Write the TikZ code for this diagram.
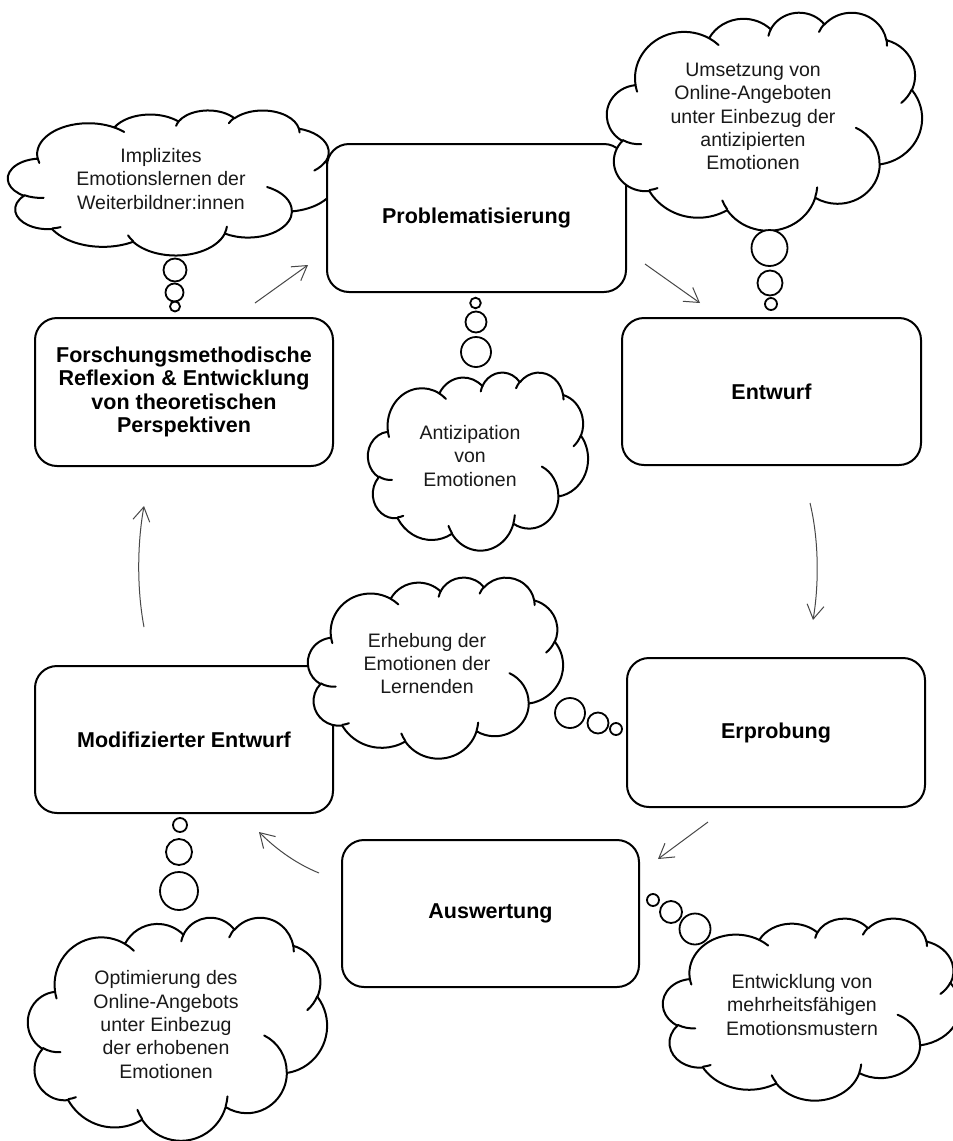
\documentclass[tikz,border=0pt]{standalone}
\usepackage{fontspec}
\setmainfont{Liberation Sans}
\usetikzlibrary{arrows.meta}

\newcommand\cldprep[5]{%
  \pgfmathsetmacro\cldtmpa{atan2((#2)*sin(#4),(#3)*cos(#4))}%
  \pgfmathsetmacro\cldtmpb{atan2((#2)*sin((#4)+(#5)),(#3)*cos((#4)+(#5)))}%
  \pgfmathsetmacro\cldtmpc{\cldtmpb-\cldtmpa}%
  \pgfmathsetmacro\cldtmpc{\cldtmpc<0 ? \cldtmpc+360 : \cldtmpc}%
  \expandafter\xdef\csname cloud#1s\endcsname{\cldtmpa}%
  \expandafter\xdef\csname cloud#1d\endcsname{\cldtmpc}%
}

\newcommand\drawcloud[4]{%
  \begin{scope}[shift={(#1,#2)}, xscale=#3/432, yscale=#4/432]
    \filldraw[cloudline] (39.00,143.70)
      arc[start angle=\cloudAs, delta angle=\cloudAd, x radius=67.53, y radius=91.90]
      arc[start angle=\cloudBs, delta angle=\cloudBd, x radius=53.33, y radius=72.67]
      arc[start angle=\cloudCs, delta angle=\cloudCd, x radius=43.65, y radius=59.45]
      arc[start angle=\cloudDs, delta angle=\cloudDd, x radius=48.57, y radius=65.95]
      arc[start angle=\cloudEs, delta angle=\cloudEd, x radius=53.33, y radius=72.73]
      arc[start angle=\cloudFs, delta angle=\cloudFd, x radius=67.75, y radius=92.20]
      arc[start angle=\cloudGs, delta angle=\cloudGd, x radius=57.85, y radius=78.67]
      arc[start angle=\cloudHs, delta angle=\cloudHd, x radius=67.52, y radius=92.15]
      arc[start angle=\cloudIs, delta angle=\cloudId, x radius=77.20, y radius=105.43]
      arc[start angle=\cloudJs, delta angle=\cloudJd, x radius=43.60, y radius=59.18]
      arc[start angle=\cloudKs, delta angle=\cloudKd, x radius=43.45, y radius=59.45]
      -- cycle;
    \draw[cloudinner]
      (46.93,261.77) arc[start angle=\cloudas, delta angle=\cloudad, x radius=43.45, y radius=59.45]
      (69.28,348.99) arc[start angle=\cloudbs, delta angle=\cloudbd, x radius=43.60, y radius=59.18]
      (164.78,390.90) arc[start angle=\cloudcs, delta angle=\cloudcd, x radius=67.52, y radius=92.15]
      (288.27,347.51) arc[start angle=\cloudds, delta angle=\clouddd, x radius=67.52, y radius=92.15]
      (341.29,229.54) arc[start angle=\cloudes, delta angle=\clouded, x radius=57.85, y radius=78.67]
      (417.98,153.54) arc[start angle=\cloudfs, delta angle=\cloudfd, x radius=53.33, y radius=72.73]
      (383.24,54.26) arc[start angle=\cloudgs, delta angle=\cloudgd, x radius=48.57, y radius=65.95]
      (290.78,39.52) arc[start angle=\cloudhs, delta angle=\cloudhd, x radius=48.57, y radius=65.95]
      (221.41,47.20) arc[start angle=\cloudis, delta angle=\cloudid, x radius=43.65, y radius=59.45]
      (140.00,51.92) arc[start angle=\cloudjs, delta angle=\cloudjd, x radius=67.53, y radius=91.90]
      (41.27,157.89) arc[start angle=\cloudks, delta angle=\cloudkd, x radius=67.53, y radius=91.90];
  \end{scope}}

\tikzset{
  cloudline/.style={draw=black, line width=2pt, fill=white, line join=round},
  cloudinner/.style={draw=black, line width=2pt, line cap=round},
  stepbox/.style={draw=black, line width=2pt, rounded corners=22pt, fill=white,
    align=center, inner sep=2pt, text=black,
    font=\fontsize{21.5}{23.3}\selectfont\bfseries},
  cloudtext/.style={align=center, inner sep=0pt, text=black!90,
    font=\fontsize{19.5}{23.3}\selectfont},
  bubble/.style={draw=black, line width=1.8pt, fill=white},
  flow/.style={draw=black!72, line width=1pt,
    -{Straight Barb[length=14pt,width=17pt,line width=1pt]}}
}

\begin{document}
\begin{tikzpicture}[x=1pt,y=-1pt]
\cldprep{A}{67.53}{91.90}{-190.48748}{123.78053}
\cldprep{B}{53.33}{72.67}{-144.10238}{89.94523}
\cldprep{C}{43.65}{59.45}{-145.80792}{99.72302}
\cldprep{D}{48.57}{65.95}{-130.98607}{117.24173}
\cldprep{E}{53.33}{72.73}{-78.70888}{109.02692}
\cldprep{F}{67.75}{92.20}{-46.26725}{130.269}
\cldprep{G}{57.85}{78.67}{0.62502}{114.03333}
\cldprep{H}{67.52}{92.15}{22.4516}{115.17255}
\cldprep{I}{77.20}{105.43}{66.24263}{75.71102}
\cldprep{J}{43.60}{59.18}{-274.94208}{146.73557}
\cldprep{K}{43.45}{59.45}{-246.8285}{152.51885}
\cldprep{a}{43.45}{59.45}{86.742}{26.4295}
\cldprep{b}{43.60}{59.18}{73.61047}{11.44747}
\cldprep{c}{67.52}{92.15}{137.62415}{14.0811}
\cldprep{d}{67.52}{92.15}{6.45327}{15.99835}
\cldprep{e}{57.85}{78.67}{-70.29235}{70.91737}
\cldprep{f}{53.33}{72.73}{30.31803}{27.7515}
\cldprep{g}{48.57}{65.95}{-13.74433}{14.8589}
\cldprep{h}{48.57}{65.95}{-149.18145}{18.19537}
\cldprep{i}{43.65}{59.45}{-163.49427}{17.68635}
\cldprep{j}{67.53}{91.90}{-66.70695}{12.31935}
\cldprep{k}{67.53}{91.90}{157.65435}{11.85817}

\path[use as bounding box, fill=white] (0,0) rectangle (953,1141);

% cloud behind the boxes
\drawcloud{8}{110}{328}{145}

% process boxes
\node[stepbox, minimum width=299pt, minimum height=148pt] (prob) at (476.5,218) {Problematisierung};
\node[stepbox, minimum width=299pt, minimum height=147pt] (entw) at (771.5,391.5) {Entwurf};
\node[stepbox, minimum width=298pt, minimum height=148pt] (forsch) at (184,392)
  {Forschungsmethodische\\Reflexion \& Entwicklung\\von theoretischen\\Perspektiven};
\node[stepbox, minimum width=298pt, minimum height=149pt] (erpr) at (776,732.5) {Erprobung};
\node[stepbox, minimum width=298pt, minimum height=147pt] (modi) at (184,739.5) {Modifizierter Entwurf};
\node[stepbox, minimum width=297pt, minimum height=147pt] (ausw) at (490.5,913.5) {Auswertung};

% clouds in front
\drawcloud{607}{12}{315}{218}
\drawcloud{368}{372}{220}{178}
\drawcloud{308}{577}{255}{181}
\drawcloud{28}{917}{299}{223}
\drawcloud{663}{918}{297}{182}

% thought bubbles
\draw[bubble] (175,270) circle[radius=11.5];
\draw[bubble] (174.5,292.5) circle[radius=9];
\draw[bubble] (175,306.5) circle[radius=5];

\draw[bubble] (769.5,248) circle[radius=18];
\draw[bubble] (770,283) circle[radius=12.5];
\draw[bubble] (771,304) circle[radius=6];

\draw[bubble] (475.5,303) circle[radius=5.3];
\draw[bubble] (476,322) circle[radius=10.5];
\draw[bubble] (476,352) circle[radius=15];

\draw[bubble] (570,713) circle[radius=15];
\draw[bubble] (598,723) circle[radius=10.5];
\draw[bubble] (616,729) circle[radius=6];

\draw[bubble] (180,825) circle[radius=7];
\draw[bubble] (179,852) circle[radius=13];
\draw[bubble] (179,891) circle[radius=19];

\draw[bubble] (653,900) circle[radius=6];
\draw[bubble] (671,912) circle[radius=11];
\draw[bubble] (695,929) circle[radius=15.5];

% cloud texts
\node[cloudtext] (timpl) at (161,179) {Implizites\\Emotionslernen der\\Weiterbildner:innen};
\node[cloudtext] (tums) at (753,116.5) {Umsetzung von\\Online-Angeboten\\unter Einbezug der\\antizipierten\\Emotionen};
\node[cloudtext] (tanti) at (470,456) {Antizipation\\von\\Emotionen};
\node[cloudtext] (terh) at (427,663.5) {Erhebung der\\Emotionen der\\Lernenden};
\node[cloudtext] (topt) at (166,1024.5) {Optimierung des\\Online-Angebots\\unter Einbezug\\der erhobenen\\Emotionen};
\node[cloudtext] (tentw) at (802,1005) {Entwicklung von\\mehrheitsf\"ahigen\\Emotionsmustern};

% cycle arrows
\coordinate (a1s) at (255,303); \coordinate (a1e) at (308,265);
\coordinate (a2s) at (645,264); \coordinate (a2e) at (700,303);
\coordinate (a3s) at (810,503); \coordinate (a3e) at (813,620);
\coordinate (a4s) at (708,822); \coordinate (a4e) at (658,859);
\coordinate (a5s) at (319,873); \coordinate (a5e) at (259,832);
\coordinate (a6s) at (144,627); \coordinate (a6e) at (144,506);

\draw[flow] (a1s) -- (a1e);
\draw[flow] (a2s) -- (a2e);
\draw[flow] (a3s) .. controls (819,540) and (819,585) .. (a3e);
\draw[flow] (a4s) -- (a4e);
\draw[flow] (a5s) .. controls (297,864) and (277,850) .. (a5e);
\draw[flow] (a6s) .. controls (137,590) and (137,545) .. (a6e);
\end{tikzpicture}
\end{document}
